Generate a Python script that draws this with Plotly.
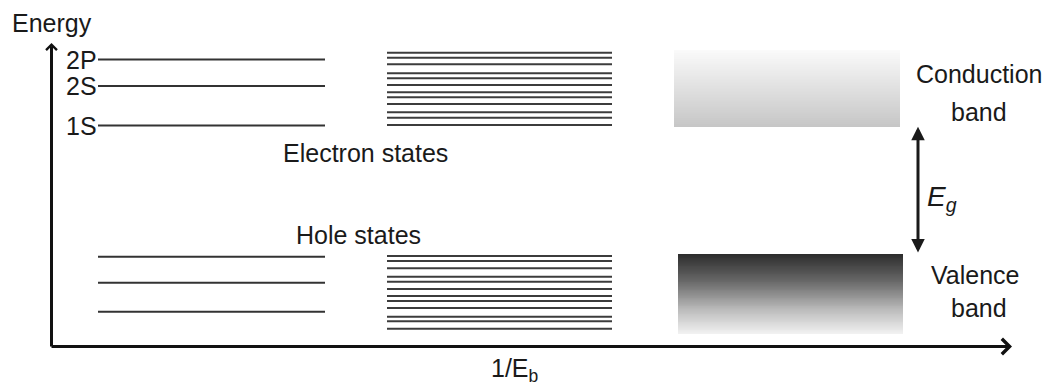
import numpy as np
import plotly.graph_objects as go

# ---------------- data (energy in arbitrary units, increasing upward) ----------------
electron_labels = ["2P", "2S", "1S"]
electron_levels = [325.5, 299.0, 259.5]
hole_levels = [128.3, 102.3, 73.3]
electron_dense = [332.3, 327.3, 320.7, 311.7, 306.7, 300.0, 292.7, 287.7, 281.0, 272.7, 267.3, 260.0]
hole_dense = [129.0, 124.0, 116.7, 108.3, 103.3, 96.0, 89.0, 84.0, 77.0, 68.3, 63.7, 56.3]
conduction_band = [258.3, 335.0]   # bottom, top
valence_band = [51.0, 131.0]       # bottom, top

# ---------------- layout constants ----------------
W, H = 1050, 385
X_DISCRETE = (98, 325)
X_DENSE = (387, 612)
X_CB = (674, 900)
X_VB = (678, 903)
AXIS_X, AXIS_Y = 51.5, 38.5
AXIS_TOP, AXIS_RIGHT = 342.0, 1012.0
EG_X = 918
FONT = "Liberation Sans, Arial, sans-serif"
FS = 25

fig = go.Figure()


def band(xr, er, stops, n=90):
    edges = np.linspace(er[0], er[1], n + 1)
    vals = [[(i + 0.5) / n] for i in range(n)]
    fig.add_trace(go.Heatmap(x=list(xr), y=edges, z=vals, colorscale=stops,
                             zmin=0, zmax=1, showscale=False, hoverinfo="skip"))


# conduction band: light at top, gray at bottom
band(X_CB, conduction_band, [[0, "#c6c6c6"], [0.5, "#e0e0e0"], [1, "#fafafa"]])
# valence band: dark at top, light at bottom
band(X_VB, valence_band, [[0, "#f2f2f2"], [0.3, "#bcbcbc"], [0.65, "#6a6a6a"], [1, "#2c2c2c"]])


def levels(xr, vals, width, color):
    xs, ys = [], []
    for v in vals:
        xs += [xr[0], xr[1], None]
        ys += [v, v, None]
    fig.add_trace(go.Scatter(x=xs, y=ys, mode="lines", hoverinfo="skip",
                             line=dict(color=color, width=width), showlegend=False))


levels(X_DISCRETE, electron_levels, 2, "#333333")
levels(X_DISCRETE, hole_levels, 2, "#333333")
levels(X_DENSE, electron_dense, 2, "#3c3c3c")
levels(X_DENSE, hole_dense, 2, "#3c3c3c")

ann = []
# axes arrows
ann.append(dict(x=AXIS_X, y=AXIS_TOP, ax=AXIS_X, ay=AXIS_Y - 1.5, xref="x", yref="y",
                axref="x", ayref="y", text="", showarrow=True, arrowhead=4,
                arrowsize=0.7, arrowwidth=3, arrowcolor="#111111", standoff=0))
ann.append(dict(x=AXIS_RIGHT, y=AXIS_Y, ax=AXIS_X - 1.5, ay=AXIS_Y, xref="x", yref="y",
                axref="x", ayref="y", text="", showarrow=True, arrowhead=4,
                arrowsize=1.0, arrowwidth=3, arrowcolor="#111111", standoff=0))
# band gap arrow
ann.append(dict(x=EG_X, y=conduction_band[0], ax=EG_X, ay=valence_band[1], xref="x", yref="y",
                axref="x", ayref="y", text="", showarrow=True, arrowhead=2, startarrowhead=2,
                arrowside="end+start", arrowsize=0.9, startarrowsize=0.9, arrowwidth=3,
                arrowcolor="#1a1a1a", standoff=0, startstandoff=0))

# state labels
for lab, e in zip(electron_labels, electron_levels):
    ann.append(dict(x=X_DISCRETE[0], y=e, text=lab, xanchor="right", yanchor="middle",
                    showarrow=False, xshift=1))


def txt(x, y, s, xa="center", size=FS):
    ann.append(dict(x=x, y=y, text=s, xanchor=xa, yanchor="middle", showarrow=False,
                    font=dict(size=size)))


txt(10, 362, "Energy", "left")
txt(281, 232, "Electron states", "left")
txt(294, 150, "Hole states", "left")
txt(914, 311, "Conduction", "left")
txt(979, 273, "band")
txt(925, 187, "<i>E<sub>g</sub></i>", "left", 28)
txt(975.5, 110, "Valence")
txt(979, 77, "band")
txt(489, 15, "1/E<sub>b</sub>", "left")

fig.update_layout(
    width=W, height=H, margin=dict(l=0, r=0, t=0, b=0),
    paper_bgcolor="white", plot_bgcolor="white", showlegend=False,
    font=dict(family=FONT, size=FS, color="#1a1a1a"),
    xaxis=dict(range=[0, W], visible=False, fixedrange=True),
    yaxis=dict(range=[0, H], visible=False, fixedrange=True),
    annotations=ann, hovermode=False,
)

fig.write_html("out.html", config={"displayModeBar": False},
               post_script="document.body.style.margin='0';")
